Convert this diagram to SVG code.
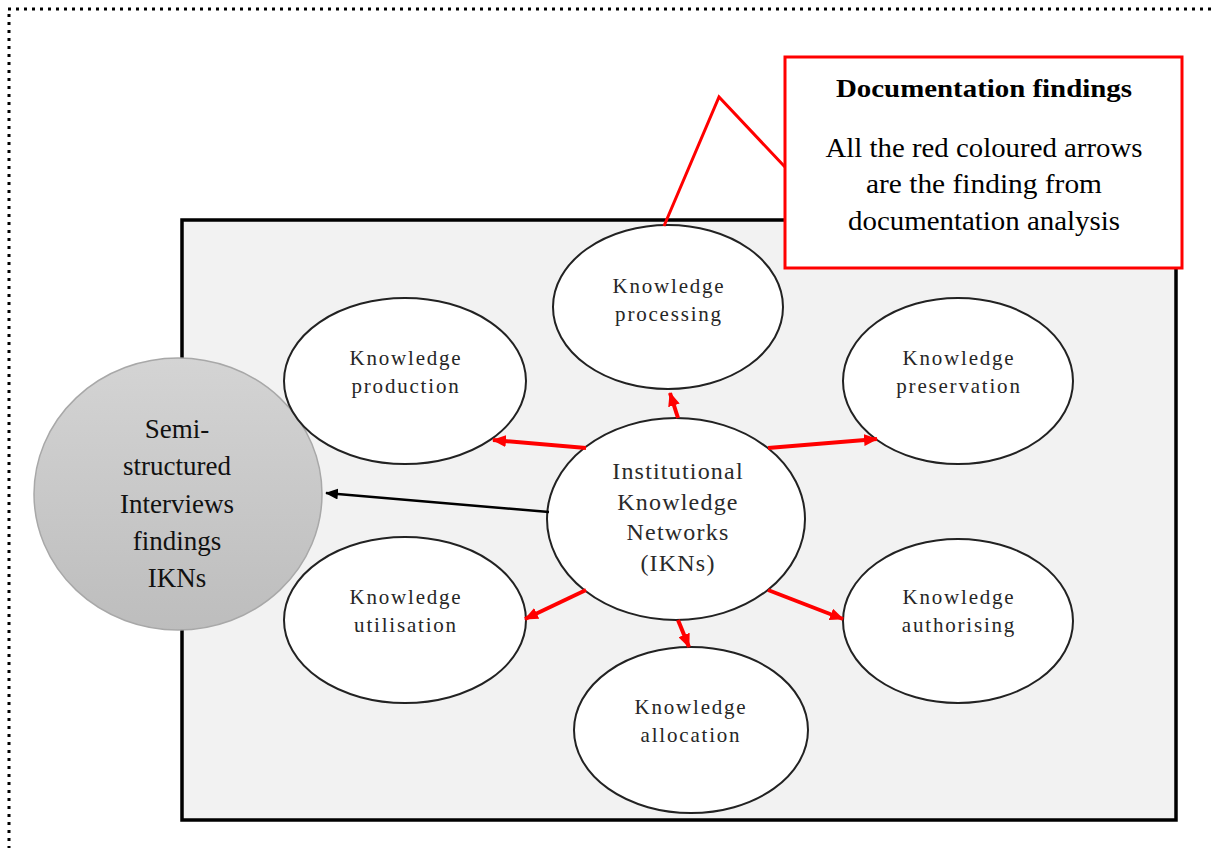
<svg xmlns="http://www.w3.org/2000/svg" width="1214" height="848" viewBox="0 0 1214 848">
<style>
.bg{fill:#ffffff}
.frame{fill:#f2f2f2;stroke:#000;stroke-width:3.5}
.dots{stroke:#000;stroke-width:3;stroke-dasharray:3 5;fill:none}
.node{fill:#fff;stroke:#222;stroke-width:2}
.lbl{font-family:"Liberation Serif","Times New Roman",serif;font-size:21px;fill:#262626;text-anchor:middle;letter-spacing:1.8px}
.clbl{font-family:"Liberation Serif","Times New Roman",serif;font-size:24px;fill:#2a2a2a;text-anchor:middle;letter-spacing:1.2px}
.glbl{font-family:"Liberation Serif","Times New Roman",serif;font-size:27px;fill:#111;text-anchor:middle}
.btitle{font-family:"Liberation Serif","Times New Roman",serif;font-size:25px;font-weight:bold;fill:#000;text-anchor:middle}
.btext{font-family:"Liberation Serif","Times New Roman",serif;font-size:27px;fill:#000;text-anchor:middle}
.red{stroke:#ff0000;stroke-width:4;fill:none}
.blk{stroke:#000;stroke-width:2.5;fill:none}
</style>
<defs>
<linearGradient id="gray" x1="0" y1="0" x2="0" y2="1">
<stop offset="0" stop-color="#d4d4d4"/>
<stop offset="1" stop-color="#bdbdbd"/>
</linearGradient>
<marker id="ar" viewBox="0 0 14 12" refX="13" refY="6" markerWidth="14" markerHeight="12" markerUnits="userSpaceOnUse" orient="auto">
<path d="M0,0 L14,6 L0,12 Z" fill="#ff0000"/>
</marker>
<marker id="ab" viewBox="0 0 14 12" refX="13" refY="6" markerWidth="13" markerHeight="11" markerUnits="userSpaceOnUse" orient="auto">
<path d="M0,0 L14,6 L0,12 Z" fill="#000"/>
</marker>
</defs>
<rect class="bg" x="0" y="0" width="1214" height="848"/>
<g id="border">
<line class="dots" x1="8" y1="9" x2="1212" y2="9"/>
<line class="dots" x1="9" y1="14" x2="9" y2="848"/>
</g>
<rect id="frame" class="frame" x="182" y="220" width="994" height="600"/>
<g id="interviews">
<ellipse cx="178" cy="494" rx="144" ry="136" fill="url(#gray)" stroke="#a8a8a8" stroke-width="1.5"/>
<text class="glbl" x="177" y="438">Semi-</text>
<text class="glbl" x="177" y="475">structured</text>
<text class="glbl" x="177" y="513">Interviews</text>
<text class="glbl" x="177" y="550">findings</text>
<text class="glbl" x="177" y="587">IKNs</text>
</g>
<g id="processing">
<ellipse class="node" cx="668" cy="307" rx="115" ry="82"/>
<text class="lbl" x="669" y="293">Knowledge</text>
<text class="lbl" x="669" y="321">processing</text>
</g>
<g id="production">
<ellipse class="node" cx="405" cy="381" rx="121" ry="83"/>
<text class="lbl" x="406" y="365">Knowledge</text>
<text class="lbl" x="406" y="393">production</text>
</g>
<g id="preservation">
<ellipse class="node" cx="958" cy="381" rx="115" ry="83"/>
<text class="lbl" x="959" y="365">Knowledge</text>
<text class="lbl" x="959" y="393">preservation</text>
</g>
<g id="utilisation">
<ellipse class="node" cx="405" cy="620" rx="121" ry="83"/>
<text class="lbl" x="406" y="604">Knowledge</text>
<text class="lbl" x="406" y="632">utilisation</text>
</g>
<g id="authorising">
<ellipse class="node" cx="958" cy="621" rx="115" ry="82"/>
<text class="lbl" x="959" y="604">Knowledge</text>
<text class="lbl" x="959" y="632">authorising</text>
</g>
<g id="allocation">
<ellipse class="node" cx="691" cy="730" rx="117" ry="83"/>
<text class="lbl" x="691" y="714">Knowledge</text>
<text class="lbl" x="691" y="742">allocation</text>
</g>
<g id="ikn">
<ellipse class="node" cx="676" cy="519" rx="129" ry="101"/>
<text class="clbl" x="678" y="479">Institutional</text>
<text class="clbl" x="678" y="510">Knowledge</text>
<text class="clbl" x="678" y="540">Networks</text>
<text class="clbl" x="678" y="571">(IKNs)</text>
</g>
<g id="documentation">
<rect x="785" y="57" width="397" height="211" fill="#fff" stroke="#ff0000" stroke-width="3"/>
<text class="btitle" x="984" y="97" textLength="296" lengthAdjust="spacingAndGlyphs">Documentation findings</text>
<text class="btext" x="984" y="157" textLength="317" lengthAdjust="spacingAndGlyphs">All the red coloured arrows</text>
<text class="btext" x="984" y="193" textLength="236" lengthAdjust="spacingAndGlyphs">are the finding from</text>
<text class="btext" x="984" y="230" textLength="272" lengthAdjust="spacingAndGlyphs">documentation analysis</text>
</g>
<g id="connectors">
<polyline fill="none" stroke="#ff0000" stroke-width="3" points="664,226 719,97 785,167"/>
<line class="red" x1="678" y1="418" x2="670" y2="393" marker-end="url(#ar)"/>
<line class="red" x1="586" y1="448" x2="493" y2="440" marker-end="url(#ar)"/>
<line class="red" x1="768" y1="448" x2="877" y2="439" marker-end="url(#ar)"/>
<line class="red" x1="586" y1="590" x2="525" y2="619" marker-end="url(#ar)"/>
<line class="red" x1="768" y1="590" x2="843" y2="619" marker-end="url(#ar)"/>
<line class="red" x1="678" y1="620" x2="689" y2="647" marker-end="url(#ar)"/>
<line class="blk" x1="549" y1="512" x2="326" y2="493" marker-end="url(#ab)"/>
</g>
</svg>
